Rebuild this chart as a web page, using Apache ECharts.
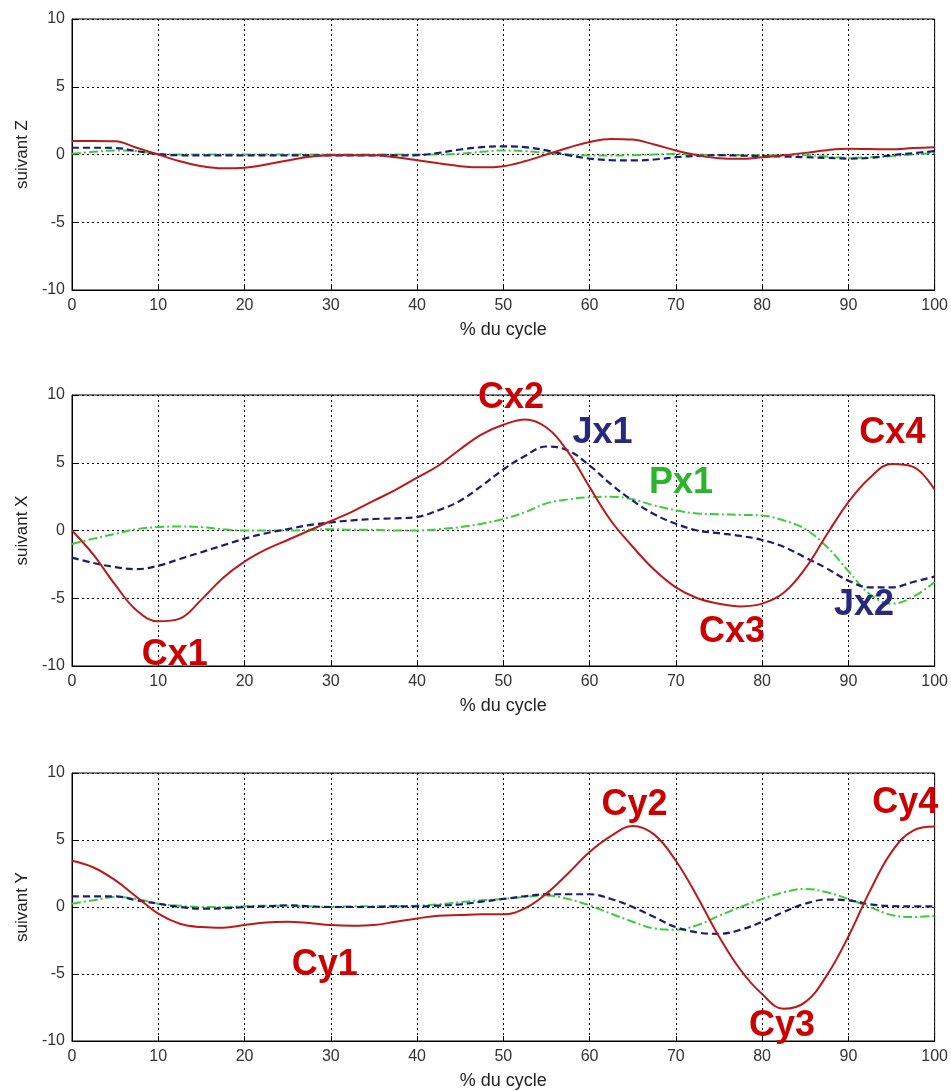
<!DOCTYPE html>
<html>
<head>
<meta charset="utf-8">
<script src="https://cdn.jsdelivr.net/npm/echarts@6/dist/echarts.min.js"></script>
<style>
html,body{margin:0;padding:0;background:#fff;}
#chart{width:951px;height:1091px;}
</style>
</head>
<body>
<div id="chart"></div>
<script>
// x positions (% du cycle)
const cycle = [0,2.5,5,7.5,10,12.5,15,17.5,20,22.5,25,27.5,30,32.5,35,37.5,40,42.5,45,47.5,50,52.5,55,57.5,60,62.5,65,67.5,70,72.5,75,77.5,80,82.5,85,87.5,90,92.5,95,97.5,100];
const xTicks = [0,10,20,30,40,50,60,70,80,90,100];
const yTicks = [-10,-5,0,5,10];
const panelTitles = ['suivant Z','suivant X','suivant Y'];

// Panel Z
const zRed   = [1.0,1.0,0.98,0.5,0.0,-0.5,-0.86,-1.02,-0.98,-0.74,-0.44,-0.17,-0.05,-0.05,-0.05,-0.2,-0.42,-0.65,-0.86,-0.95,-0.86,-0.5,0.0,0.5,0.93,1.15,1.1,0.74,0.3,-0.05,-0.28,-0.32,-0.2,-0.05,0.12,0.32,0.42,0.4,0.38,0.48,0.54];
const zBlue  = [0.5,0.5,0.48,0.25,0.02,-0.06,-0.07,-0.07,-0.07,-0.07,-0.07,-0.07,-0.07,-0.07,-0.07,-0.07,-0.05,0.12,0.37,0.54,0.6,0.54,0.3,-0.05,-0.3,-0.42,-0.44,-0.37,-0.2,-0.1,-0.05,-0.08,-0.12,-0.15,-0.2,-0.25,-0.3,-0.25,-0.05,0.1,0.25];
const zGreen = [0.05,0.2,0.3,0.25,0.05,0.0,0.0,0.0,0.0,0.0,0.0,0.0,0.0,0.0,0.0,0.0,0.0,0.0,0.07,0.2,0.3,0.25,0.12,0.0,-0.07,-0.07,-0.05,0.0,0.05,0.0,-0.05,-0.05,-0.05,-0.05,-0.05,-0.15,-0.25,-0.2,-0.12,0.0,0.12];

// Panel X
const xRed   = [0,-1.8,-4.0,-5.9,-6.7,-6.5,-5.1,-3.5,-2.3,-1.4,-0.7,0.0,0.7,1.4,2.2,3.0,3.9,4.8,6.0,7.1,7.8,8.2,7.6,5.8,3.2,0.7,-1.2,-2.9,-4.2,-5.0,-5.4,-5.6,-5.4,-4.6,-2.8,-0.3,2.1,3.9,4.9,4.7,3.0];
const xBlue  = [-2.0,-2.4,-2.7,-2.85,-2.6,-2.1,-1.6,-1.1,-0.6,-0.2,0.1,0.4,0.6,0.75,0.85,0.9,1.0,1.5,2.2,3.3,4.5,5.5,6.2,5.9,4.8,3.4,2.2,1.2,0.5,0.0,-0.2,-0.4,-0.7,-1.2,-2.0,-2.8,-3.7,-4.2,-4.2,-3.8,-3.4];
const xGreen = [-1.0,-0.6,-0.25,0.1,0.25,0.3,0.25,0.1,0.0,0.0,0.0,0.05,0.1,0.05,0.05,0.0,0.0,0.1,0.25,0.5,0.85,1.35,2.0,2.3,2.45,2.5,2.3,1.85,1.5,1.25,1.2,1.15,1.1,0.75,0.1,-1.2,-3.0,-4.7,-5.4,-4.9,-3.8];

// Panel Y
const yRed   = [3.45,2.95,2.0,0.75,-0.5,-1.25,-1.5,-1.55,-1.35,-1.15,-1.1,-1.2,-1.35,-1.4,-1.35,-1.1,-0.85,-0.65,-0.6,-0.55,-0.55,-0.1,1.0,2.5,4.1,5.3,6.05,5.4,3.45,0.75,-2.2,-4.7,-6.5,-7.6,-7.1,-5.1,-2.2,1.2,4.1,5.7,6.0];
const yBlue  = [0.8,0.8,0.8,0.5,0.25,0.0,-0.12,-0.1,0.0,0.05,0.12,0.05,0.0,0.0,0.0,0.05,0.05,0.1,0.2,0.4,0.6,0.8,0.95,0.95,0.95,0.6,0.0,-0.75,-1.5,-1.9,-2.0,-1.7,-1.1,-0.37,0.25,0.55,0.5,0.2,0.07,0.05,0.05];
const yGreen = [0.25,0.5,0.75,0.6,0.25,0.1,0.0,0.0,0.05,0.1,0.1,0.05,0.0,0.05,0.05,0.05,0.1,0.2,0.37,0.5,0.6,0.75,0.86,0.6,0.12,-0.5,-1.1,-1.6,-1.7,-1.35,-0.66,0.0,0.6,1.1,1.35,1.1,0.6,0.0,-0.6,-0.75,-0.66];

// Annotations: [panel, x, y, text, colorKey]
const annotations = [
  [1, 11.9, -9.2, 'Cx1', 'red'],
  [1, 50.9, 9.8, 'Cx2', 'red'],
  [1, 61.5, 7.2, 'Jx1', 'blue'],
  [1, 70.6, 3.5, 'Px1', 'green'],
  [1, 76.5, -7.5, 'Cx3', 'red'],
  [1, 95.1, 7.2, 'Cx4', 'red'],
  [1, 91.8, -5.5, 'Jx2', 'blue'],
  [2, 29.3, -4.35, 'Cy1', 'red'],
  [2, 65.2, 7.6, 'Cy2', 'red'],
  [2, 82.3, -8.9, 'Cy3', 'red'],
  [2, 96.6, 7.75, 'Cy4', 'red']
];

const lineColors = {red:'#bb1a1a', blue:'#1c1c78', green:'#3ccc3c'};
const labelColors = {red:'#cc0000', blue:'#28287e', green:'#2cb52c'};
const panels = [[zRed,zBlue,zGreen],[xRed,xBlue,xGreen],[yRed,yBlue,yGreen]];

const chart = echarts.init(document.getElementById('chart'), null, {renderer:'canvas'});
const tops = [19, 395, 773];
const heights = [271, 271, 270];
const grids = [], xAxes = [], yAxes = [], series = [];
const font = 'Liberation Sans, Arial, sans-serif';
const gridLine = {show:true, lineStyle:{color:'#000', type:[2,3], width:1}};

tops.forEach((t,i)=>{
  grids.push({left:72, top:t, width:864, height:heights[i], show:true, borderColor:'#000', borderWidth:1, backgroundColor:'#fff'});
  xAxes.push({type:'value', gridIndex:i, min:0, max:100, interval:10,
    name:'% du cycle', nameLocation:'middle', nameGap:31,
    nameTextStyle:{fontFamily:font, fontSize:18, color:'#222'},
    axisLine:{show:true, onZero:false, lineStyle:{color:'#000'}},
    axisTick:{show:true, inside:true, length:5, lineStyle:{color:'#000'}},
    axisLabel:{fontFamily:font, fontSize:16, color:'#333', margin:8, formatter:v=>xTicks.includes(v)?String(v):''},
    splitLine:gridLine});
  yAxes.push({type:'value', gridIndex:i, min:-10, max:10, interval:5,
    name:panelTitles[i], nameLocation:'middle', nameGap:40, nameRotate:90,
    nameTextStyle:{fontFamily:font, fontSize:17, color:'#222'},
    axisLine:{show:true, onZero:false, lineStyle:{color:'#000'}},
    axisTick:{show:true, inside:true, length:5, lineStyle:{color:'#000'}},
    axisLabel:{fontFamily:font, fontSize:16, color:'#333', margin:7, formatter:v=>yTicks.includes(v)?String(v):''},
    splitLine:gridLine});
  const [r,b,g] = panels[i];
  const mk = (arr)=>cycle.map((c,k)=>[c,arr[k]]);
  series.push({type:'line', xAxisIndex:i, yAxisIndex:i, data:mk(g), showSymbol:false, smooth:0.4,
    lineStyle:{color:lineColors.green, width:2, type:[9,3,2,3]}, z:2});
  series.push({type:'line', xAxisIndex:i, yAxisIndex:i, data:mk(b), showSymbol:false, smooth:0.4,
    lineStyle:{color:lineColors.blue, width:2.2, type:[7,4]}, z:3});
  series.push({type:'line', xAxisIndex:i, yAxisIndex:i, data:mk(r), showSymbol:false, smooth:0.4,
    lineStyle:{color:lineColors.red, width:2}, z:4});
});

annotations.forEach(a=>{
  series.push({type:'scatter', xAxisIndex:a[0], yAxisIndex:a[0], symbolSize:0, silent:true, z:10,
    itemStyle:{opacity:1},
    data:[[a[1],a[2],a[3]]],
    label:{show:true, position:'inside', formatter:p=>p.data[2], opacity:1,
      fontFamily:font, fontSize:36, fontWeight:'bold', color:labelColors[a[4]]}});
});

chart.setOption({animation:false, backgroundColor:'#fff', grid:grids, xAxis:xAxes, yAxis:yAxes, series:series});
</script>
</body>
</html>
